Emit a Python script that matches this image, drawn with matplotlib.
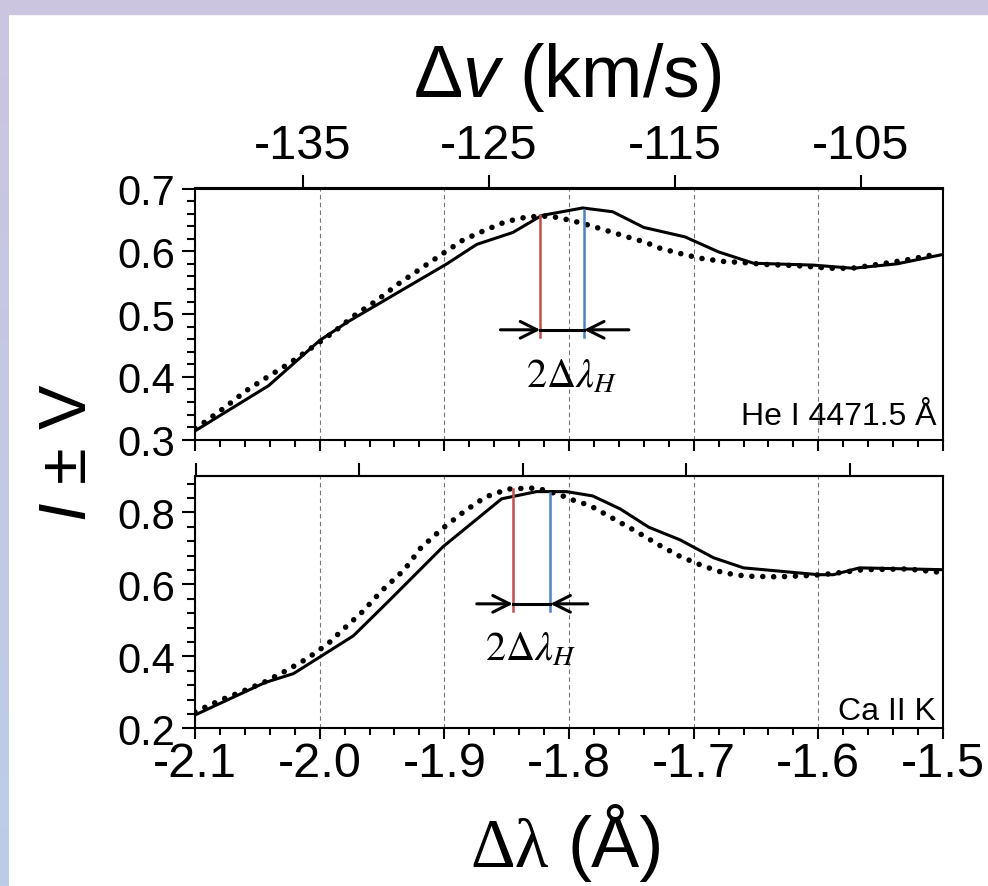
import numpy as np
import matplotlib.pyplot as plt
from matplotlib.ticker import MultipleLocator, FormatStrFormatter, NullFormatter
from matplotlib.colors import LinearSegmentedColormap

plt.rcParams['font.family'] = ['Liberation Sans', 'DejaVu Sans']
plt.rcParams['axes.unicode_minus'] = False
plt.rcParams['mathtext.fontset'] = 'custom'
plt.rcParams['mathtext.rm'] = 'Liberation Sans'
plt.rcParams['mathtext.it'] = 'Liberation Sans:italic'

C_KMS = 299792.458
LAM_HE = 4471.5
LAM_CA = 3933.66

# ---- He I 4471.5 A : solid and dotted profiles ----
he_solid_x = [-2.100, -2.041, -2.000, -1.978, -1.898, -1.874, -1.845, -1.822, -1.789,
              -1.765, -1.740, -1.707, -1.680, -1.652, -1.604, -1.572, -1.537, -1.500]
he_solid_y = [0.314, 0.386, 0.458, 0.487, 0.580, 0.611, 0.630, 0.657, 0.669,
              0.663, 0.638, 0.623, 0.599, 0.581, 0.578, 0.573, 0.580, 0.595]
he_dot_x = [-2.100, -2.093, -2.075, -2.059, -2.041, -2.024, -2.006, -1.989, -1.972, -1.954,
            -1.937, -1.920, -1.903, -1.885, -1.868, -1.851, -1.833, -1.816, -1.807, -1.790,
            -1.773, -1.755, -1.738, -1.729, -1.712, -1.695, -1.677, -1.660, -1.642, -1.616,
            -1.590, -1.573, -1.556, -1.530, -1.504]
he_dot_y = [0.318, 0.327, 0.353, 0.378, 0.401, 0.422, 0.447, 0.471, 0.498, 0.522,
            0.548, 0.571, 0.594, 0.618, 0.633, 0.647, 0.655, 0.656, 0.653, 0.645,
            0.635, 0.624, 0.614, 0.606, 0.597, 0.589, 0.584, 0.582, 0.579, 0.577,
            0.573, 0.573, 0.578, 0.586, 0.596]

# ---- Ca II K : solid and dotted profiles ----
ca_solid_x = [-2.100, -2.044, -2.021, -1.973, -1.946, -1.901, -1.854, -1.826, -1.802,
              -1.781, -1.759, -1.736, -1.711, -1.684, -1.660, -1.600, -1.588, -1.567, -1.501]
ca_solid_y = [0.237, 0.327, 0.352, 0.457, 0.549, 0.705, 0.838, 0.858, 0.858,
              0.846, 0.810, 0.759, 0.724, 0.674, 0.646, 0.627, 0.627, 0.646, 0.641]
ca_dot_x = [-2.100, -2.096, -2.079, -2.061, -2.044, -2.027, -2.010, -1.993, -1.984, -1.966,
            -1.950, -1.932, -1.919, -1.902, -1.884, -1.867, -1.849, -1.831, -1.823, -1.807,
            -1.799, -1.789, -1.781, -1.764, -1.746, -1.728, -1.711, -1.693, -1.676, -1.658,
            -1.633, -1.605, -1.589, -1.564, -1.529, -1.503]
ca_dot_y = [0.245, 0.252, 0.279, 0.304, 0.329, 0.360, 0.394, 0.436, 0.466, 0.523,
            0.583, 0.641, 0.701, 0.754, 0.803, 0.843, 0.865, 0.868, 0.865, 0.849,
            0.837, 0.826, 0.815, 0.782, 0.747, 0.710, 0.678, 0.652, 0.632, 0.623,
            0.621, 0.625, 0.630, 0.641, 0.643, 0.634]

# ---- peak markers (red / blue) ----
red_x = [-1.823, -1.845]
red_top = [0.658, 0.865]
blue_x = [-1.788, -1.815]
blue_top = [0.665, 0.854]

panel_labels = ['He I 4471.5 Å', 'Ca II K']
rest_lambda = [LAM_HE, LAM_CA]
top_ticks = [[-135, -125, -115, -105], [-160, -150, -140, -130, -120]]
ylims = [(0.3, 0.7), (0.2, 0.9)]
y_major = [0.1, 0.2]
y_minor = [0.02, 0.04]

# arrow geometry (data coords)
arrow_y = [0.475, 0.546]
arrow_left = [-1.855, -1.874]
arrow_right = [-1.752, -1.785]
marker_bottom = [0.464, 0.526]
lab_x = [-1.798, -1.831]
lab_y = [0.384, 0.392]
text_y = [0.0625, 0.037]

W, H = 988, 887
fig = plt.figure(figsize=(W / 100, H / 100), dpi=100)
fig.patch.set_facecolor('white')

# lavender frame round the slide
fig.patches.append(plt.Rectangle((0, 1 - 15 / H), 1, 15 / H, transform=fig.transFigure,
                                 color='#cbc5e0', zorder=0))
band = fig.add_axes([0, 0, 8 / W, 1 - 15 / H])
grad = np.linspace(0, 1, 256).reshape(-1, 1)
cm = LinearSegmentedColormap.from_list('band', ['#cbc5e0', '#bccde8'])
band.imshow(grad, aspect='auto', cmap=cm, extent=[0, 1, 0, 1], origin='upper')
band.axis('off')

axes_pos = [[195 / W, 1 - 440.7 / H, 748 / W, 251.2 / H],
            [195 / W, 1 - 729.3 / H, 748 / W, 251.8 / H]]

data = [(he_solid_x, he_solid_y, he_dot_x, he_dot_y),
        (ca_solid_x, ca_solid_y, ca_dot_x, ca_dot_y)]

for i in range(2):
    ax = fig.add_axes(axes_pos[i])
    sx, sy, dx, dy = data[i]
    ax.plot(sx, sy, color='black', lw=2.2, zorder=3)
    ax.plot(dx, dy, color='black', lw=4.0, ls=(0, (0.01, 1.95)),
            dash_capstyle='round', zorder=3)

    ax.set_xlim(-2.1, -1.5)
    ax.set_ylim(*ylims[i])
    ax.xaxis.set_major_locator(MultipleLocator(0.1))
    ax.xaxis.set_minor_locator(MultipleLocator(0.02))
    ax.yaxis.set_major_locator(MultipleLocator(y_major[i]))
    ax.yaxis.set_minor_locator(MultipleLocator(y_minor[i]))
    ax.xaxis.set_major_formatter(FormatStrFormatter('%.1f'))
    ax.yaxis.set_major_formatter(FormatStrFormatter('%.1f'))
    ax.grid(axis='x', which='major', color='#777777', ls=(0, (4, 3)), lw=0.8, zorder=1)

    for s in ax.spines.values():
        s.set_linewidth(1.5)
    ax.tick_params(axis='both', which='both', direction='out', top=False, right=False, width=1.5)
    ax.tick_params(axis='y', which='major', length=9.5, labelsize=30, pad=5)
    ax.tick_params(axis='y', which='minor', length=5.5)
    ax.tick_params(axis='x', which='major', length=8, labelsize=35, pad=1)
    ax.tick_params(axis='x', which='minor', length=5)
    if i == 0:
        ax.tick_params(axis='x', labelbottom=False)

    lam0 = rest_lambda[i]
    sec = ax.secondary_xaxis('top', functions=(lambda l, lam0=lam0: l / lam0 * C_KMS,
                                               lambda v, lam0=lam0: v / C_KMS * lam0))
    sec.set_xticks(top_ticks[i])
    sec.tick_params(direction='out', length=9.5, width=1.5, labelsize=35, pad=5)
    sec.spines['top'].set_linewidth(1.5)
    if i == 0:
        sec.xaxis.set_major_formatter(FormatStrFormatter('%d'))
    else:
        sec.xaxis.set_major_formatter(NullFormatter())

    # peak markers with the 2 delta lambda_H arrows
    ax.plot([red_x[i], red_x[i]], [marker_bottom[i], red_top[i]], color='#c0504d', lw=1.8, zorder=4)
    ax.plot([blue_x[i], blue_x[i]], [marker_bottom[i], blue_top[i]], color='#4f81bd', lw=1.8, zorder=4)
    ax.plot([red_x[i], blue_x[i]], [arrow_y[i], arrow_y[i]], color='black', lw=2.2, zorder=4)
    ap = dict(arrowstyle='->', lw=2.2, color='black', shrinkA=0, shrinkB=0, mutation_scale=30)
    ax.annotate('', xy=(red_x[i], arrow_y[i]), xytext=(arrow_left[i], arrow_y[i]), arrowprops=ap, zorder=4)
    ax.annotate('', xy=(blue_x[i], arrow_y[i]), xytext=(arrow_right[i], arrow_y[i]), arrowprops=ap, zorder=4)
    ax.text(lab_x[i], lab_y[i], r'$2\Delta\lambda_H$', math_fontfamily='stix', fontsize=29,
            ha='center', va='baseline')

    ax.text(0.991, text_y[i], panel_labels[i], transform=ax.transAxes, fontsize=23,
            ha='right', va='baseline')

fig.text(567 / W, 1 - 77 / H, r'$\Delta v$ (km/s)', fontsize=53, ha='center', va='center')
fig.text(69 / W, 1 - 453 / H, '$I$ ± V', fontsize=48, rotation=90, ha='center', va='center')
fig.text(549 / W, 1 - 867 / H, 'Δλ', family='Liberation Serif', fontsize=50, ha='right', va='baseline')
fig.text(568 / W, 1 - 867 / H, '(Å)', fontsize=52, ha='left', va='baseline')

fig.savefig('out.png', dpi=100)
